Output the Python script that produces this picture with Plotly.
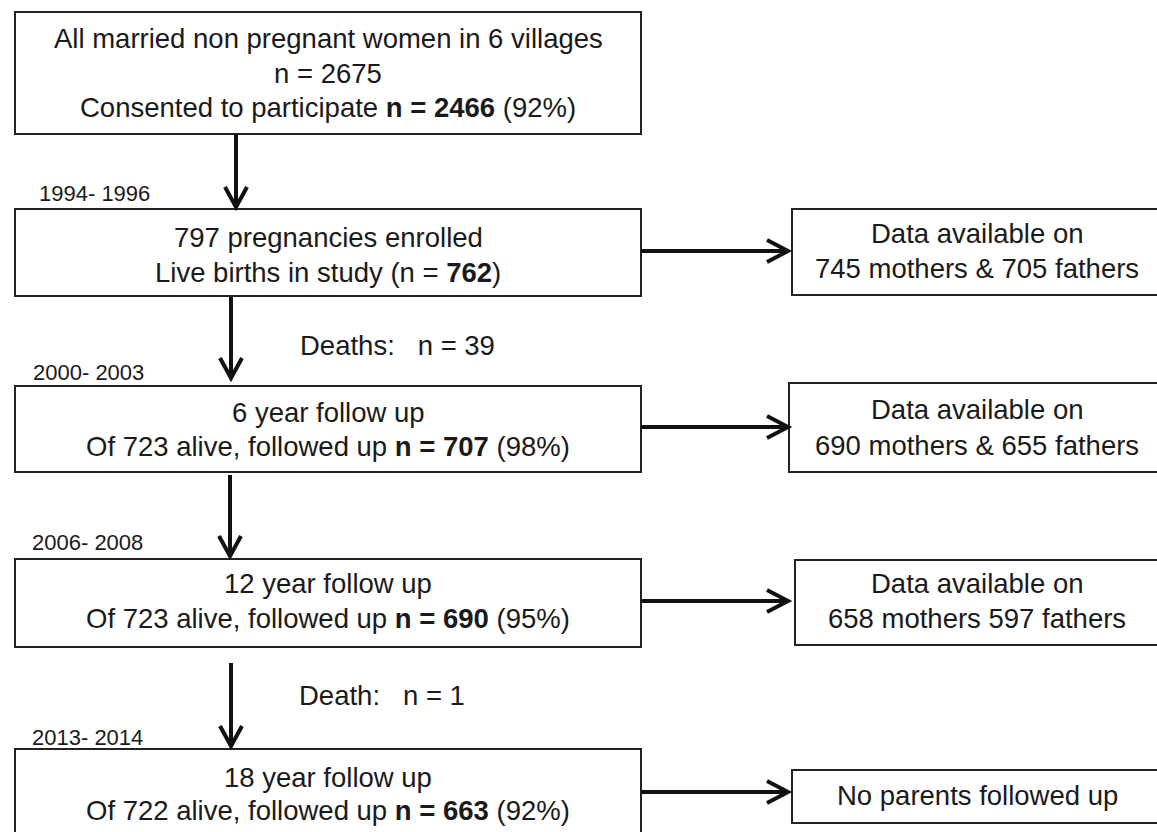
import plotly.graph_objects as go

# ---------------- content ----------------
main_lines = [
    ["All married non pregnant women in 6 villages", "n = 2675",
     "Consented to participate <b>n = 2466</b> (92%)"],
    ["797 pregnancies enrolled", "Live births in study (n = <b>762</b>)"],
    ["6 year follow up", "Of 723 alive, followed up <b>n = 707</b> (98%)"],
    ["12 year follow up", "Of 723 alive, followed up <b>n = 690</b> (95%)"],
    ["18 year follow up", "Of 722 alive, followed up <b>n = 663</b> (92%)"],
]
side_lines = [
    ["Data available on", "745 mothers & 705 fathers"],
    ["Data available on", "690 mothers & 655 fathers"],
    ["Data available on", "658 mothers 597 fathers"],
    ["No parents followed up"],
]
period_labels = ["1994- 1996", "2000- 2003", "2006- 2008", "2013- 2014"]
death_labels = ["Deaths:\u00a0\u00a0\u00a0n = 39", "Death:\u00a0\u00a0\u00a0n = 1"]

# ---------------- layout geometry (pixels) ----------------
W, H = 1157, 832
main_x = (15, 641)
main_y = [(12, 134), (209, 296), (386, 472), (559, 647), (749, 900)]
main_text_y = [[38, 73, 107], [237, 272], [412, 446], [583, 618], [777, 810]]
side_x0 = [792, 789, 795, 792]
side_x1 = 1157
side_y = [(209, 295), (383, 472), (560, 645), (770, 823)]
side_text_y = [[233, 268], [409, 445], [583, 618], [795]]
side_cx = 977

v_arrows = [(236, 135, 207), (231, 297, 378), (230, 475, 556), (231, 663, 746)]
h_arrows = [(641, 788, 251), (641, 788, 427), (641, 788, 601), (641, 788, 792)]
period_pos = [(37, 193), (31, 372), (30, 542), (30, 737)]
death_pos = [(298, 345), (297, 695)]

FONT = "Liberation Sans, Arial, Helvetica, sans-serif"
MAIN_SIZE = 27.5
SMALL_SIZE = 22
INK = "#111111"
EDGE = "#222222"

fig = go.Figure()
fig.add_trace(go.Scatter(x=[0, W], y=[0, H], mode="markers",
                         marker=dict(opacity=0), hoverinfo="skip",
                         showlegend=False))

shapes = []
annotations = []

def rect(x0, y0, x1, y1):
    shapes.append(dict(type="rect", xref="x", yref="y", x0=x0, y0=y0, x1=x1, y1=y1,
                       line=dict(color=EDGE, width=2), fillcolor="white", layer="above"))

def open_rect(x0, y0, x1, y1):
    # box running off the right edge of the picture: top, left and bottom sides only
    shapes.append(dict(type="path", xref="x", yref="y",
                       path=f"M {x1},{y0} L {x0},{y0} L {x0},{y1} L {x1},{y1}",
                       line=dict(color=EDGE, width=2), layer="above"))

def text(x, y, s, size, xanchor="center"):
    annotations.append(dict(x=x, y=y, xref="x", yref="y", text=s, showarrow=False,
                            xanchor=xanchor, yanchor="middle",
                            font=dict(family=FONT, size=size, color="#1a1a1a")))

for (y0, y1), lines, ys in zip(main_y, main_lines, main_text_y):
    rect(main_x[0], y0, main_x[1], y1)
    cx = (main_x[0] + main_x[1]) / 2
    for s, ty in zip(lines, ys):
        text(cx, ty, s, MAIN_SIZE)

for x0, (y0, y1), lines, ys in zip(side_x0, side_y, side_lines, side_text_y):
    open_rect(x0, y0, side_x1, y1)
    for s, ty in zip(lines, ys):
        text(side_cx, ty, s, MAIN_SIZE)

for x, y0, y1 in v_arrows:
    shapes.append(dict(type="line", xref="x", yref="y", x0=x, y0=y0, x1=x, y1=y1 - 2,
                       line=dict(color=INK, width=4)))
    shapes.append(dict(type="path", xref="x", yref="y",
                       path=f"M {x-11},{y1-20} L {x},{y1} L {x+11},{y1-20}",
                       line=dict(color=INK, width=4)))

for x0, x1, y in h_arrows:
    shapes.append(dict(type="line", xref="x", yref="y", x0=x0, y0=y, x1=x1 - 2, y1=y,
                       line=dict(color=INK, width=4)))
    shapes.append(dict(type="path", xref="x", yref="y",
                       path=f"M {x1-21},{y-11} L {x1},{y} L {x1-21},{y+11}",
                       line=dict(color=INK, width=4)))

for s, (x, y) in zip(period_labels, period_pos):
    text(x, y, s, SMALL_SIZE, xanchor="left")

for s, (x, y) in zip(death_labels, death_pos):
    text(x, y, s, MAIN_SIZE, xanchor="left")

fig.update_layout(
    width=W, height=H,
    margin=dict(l=0, r=0, t=0, b=0),
    paper_bgcolor="white", plot_bgcolor="white",
    xaxis=dict(range=[0, W], visible=False, fixedrange=True),
    yaxis=dict(range=[H, 0], visible=False, fixedrange=True),
    shapes=shapes, annotations=annotations,
    showlegend=False,
)

fig.write_html(
    "out.html",
    config={"displayModeBar": False},
    post_script="document.body.style.margin='0';document.body.style.overflow='hidden';",
)
